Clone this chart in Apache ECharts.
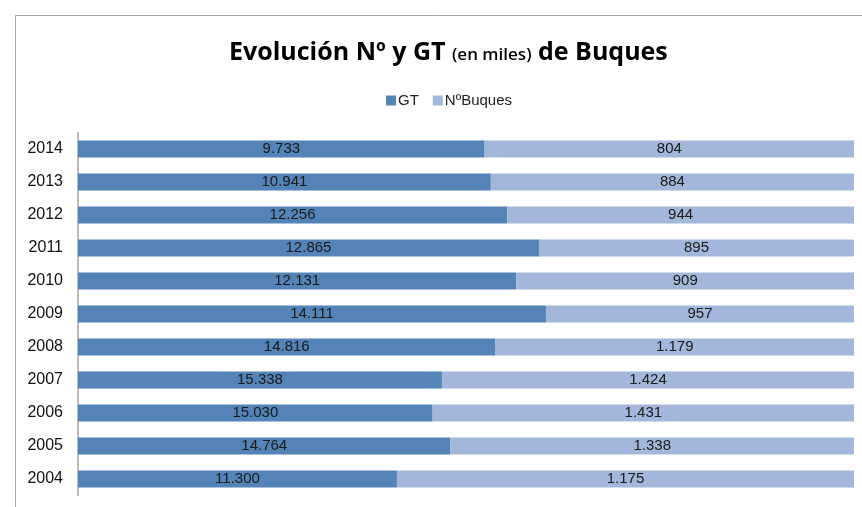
<!DOCTYPE html>
<html><head><meta charset="utf-8">
<script src="https://cdn.jsdelivr.net/npm/echarts@6/dist/echarts.min.js"></script>
<style>html,body{margin:0;padding:0;background:#fff}#c{width:862px;height:507px}</style>
</head><body><div id="c"></div>
<script>
var years = ['2004','2005','2006','2007','2008','2009','2010','2011','2012','2013','2014'];
// Labels as printed in the chart
var gtLabels = ['11.300','14.764','15.030','15.338','14.816','14.111','12.131','12.865','12.256','10.941','9.733'];
var buquesLabels = ['1.175','1.338','1.431','1.424','1.179','957','909','895','944','884','804'];
// Share of the 100% bar
var gtShare = [41.1, 48.0, 45.7, 46.9, 53.8, 60.3, 56.5, 59.4, 55.3, 53.2, 52.4];
var buquesShare = [58.9, 52.0, 54.3, 53.1, 46.2, 39.7, 43.5, 40.6, 44.7, 46.8, 47.6];

var chart = echarts.init(document.getElementById('c'));
chart.setOption({
  animation: false,
  backgroundColor: '#fff',
  graphic: [{
    type: 'rect', shape: {x: 15.5, y: 15.5, width: 900, height: 600},
    style: {fill: 'none', stroke: '#a6a6a6', lineWidth: 1}
  }],
  title: {
    left: 224, top: 35,
    text: '{a|Evolución Nº y GT }{b|(en miles)}{a| de Buques}',
    textStyle: {
      rich: {
        a: {fontFamily: 'Open Sans', fontWeight: 'bold', fontSize: 25, color: '#000'},
        b: {fontFamily: 'Open Sans', fontWeight: 600, fontSize: 17, color: '#000', padding: [5,0,0,0]}
      }
    }
  },
  legend: {
    top: 88, left: 381, itemWidth: 10, itemHeight: 10, itemGap: 14,
    icon: 'rect',
    textStyle: {fontFamily: 'Liberation Sans', fontSize: 15, color: '#222', padding: [0,0,0,-3]},
    data: ['GT', 'NºBuques']
  },
  grid: {left: 78, right: 8, top: 132.5, bottom: 11.5, containLabel: false},
  xAxis: {type: 'value', min: 0, max: 100, show: false},
  yAxis: {
    type: 'category', data: years,
    axisLine: {show: true, lineStyle: {color: '#a6a6a6', width: 1.5}},
    axisTick: {show: false},
    axisLabel: {fontFamily: 'Liberation Sans', fontSize: 16, color: '#111', margin: 15}
  },
  series: [
    {
      name: 'GT', type: 'bar', stack: 'tot', data: gtShare, barWidth: 17,
      itemStyle: {color: '#5383b7'},
      label: {show: true, position: 'inside', fontFamily: 'Liberation Sans', fontSize: 15, color: '#1a1a1a',
        formatter: function(p){ return gtLabels[p.dataIndex]; }}
    },
    {
      name: 'NºBuques', type: 'bar', stack: 'tot', data: buquesShare, barWidth: 17,
      itemStyle: {color: '#a2b7d9'},
      label: {show: true, position: 'inside', fontFamily: 'Liberation Sans', fontSize: 15, color: '#1a1a1a',
        formatter: function(p){ return buquesLabels[p.dataIndex]; }}
    }
  ]
});
</script></body></html>
